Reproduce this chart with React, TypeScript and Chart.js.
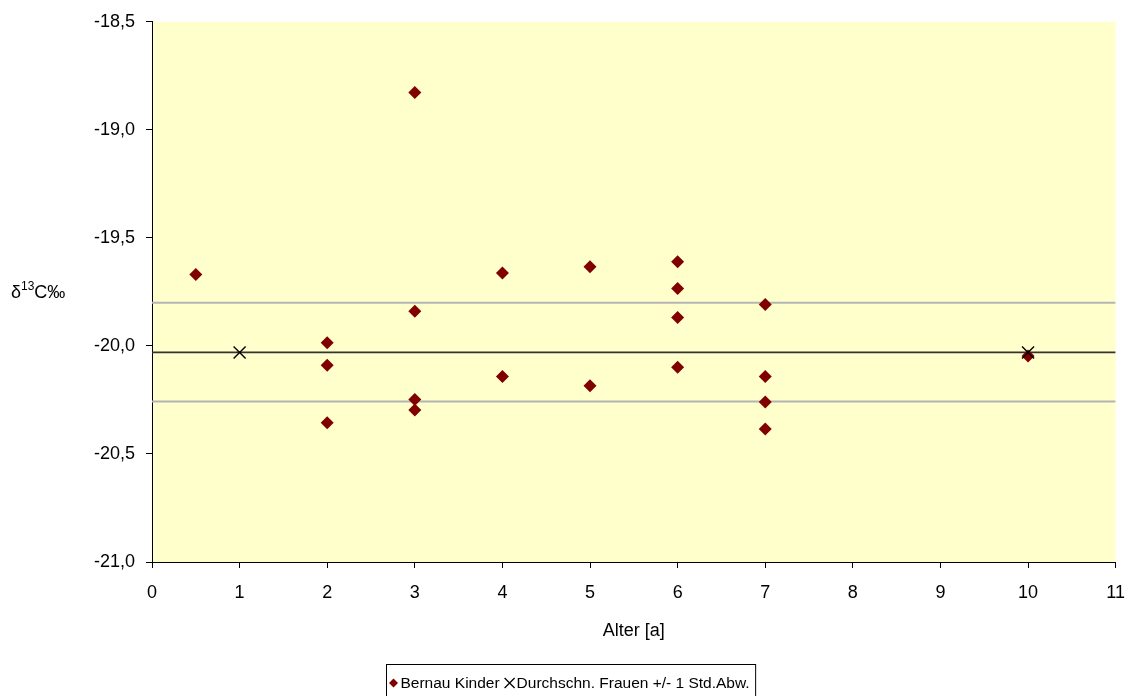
import React, { useEffect, useRef } from "react";
import { Chart, registerables } from "chart.js";

Chart.register(...registerables);

const kinderAges = [0.5, 2, 2, 2, 3, 3, 3, 3, 4, 4, 5, 5, 6, 6, 6, 6, 7, 7, 7, 7, 10];
const kinderValues = [
  -19.67, -19.985, -20.09, -20.355, -18.827, -19.84, -20.248, -20.296, -19.663, -20.142,
  -19.634, -20.184, -19.61, -19.734, -19.869, -20.099, -19.808, -20.142, -20.26, -20.384, -20.047,
];
const frauenAges = [1, 10];
const frauenMean = -20.03;
const frauenUpper = -19.8;
const frauenLower = -20.257;
const lineSpan = [0, 11];
const yTicks = [-21, -20.5, -20, -19.5, -19, -18.5];

const FONT = "'Liberation Sans', Arial, sans-serif";

export default function App() {
  const ref = useRef<HTMLCanvasElement | null>(null);

  useEffect(() => {
    document.body.style.margin = "0";
    const canvas = ref.current!;
    const bgPlugin = {
      id: "bg",
      beforeDraw(chart: any) {
        const { ctx, chartArea } = chart;
        ctx.save();
        ctx.fillStyle = "#FFFFCC";
        ctx.fillRect(chartArea.left, chartArea.top, chartArea.right - chartArea.left, chartArea.bottom - chartArea.top);
        ctx.restore();
      },
      afterDraw(chart: any) {
        const { ctx, chartArea } = chart;
        ctx.save();
        // y title
        const midY = (chartArea.top + chartArea.bottom) / 2;
        ctx.fillStyle = "#000";
        ctx.textBaseline = "middle";
        ctx.textAlign = "left";
        let x = 11;
        ctx.font = `18px ${FONT}`;
        ctx.fillText("δ", x, midY + 1);
        x += ctx.measureText("δ").width;
        ctx.font = `12px ${FONT}`;
        ctx.fillText("13", x, midY - 5);
        x += ctx.measureText("13").width;
        ctx.font = `18px ${FONT}`;
        ctx.fillText("C‰", x, midY + 1);

        // legend
        const items = chart.data.datasets.filter((d: any) => d.inLegend);
        ctx.font = `15.5px ${FONT}`;
        const markerW = 12;
        const widths = items.map((d: any) => ctx.measureText(d.label).width);
        let total = 3;
        items.forEach((_: any, i: number) => {
          total += markerW + 1 + widths[i] + 4;
        });
        const boxLeft = Math.round(chart.width / 2 - total / 2) + 1.5;
        const boxTop = 664.5;
        const cy = 683;
        ctx.strokeStyle = "#000";
        ctx.lineWidth = 1;
        ctx.strokeRect(boxLeft, boxTop, total, 60);
        let lx = boxLeft + 1;
        items.forEach((d: any, i: number) => {
          const mx = lx + markerW / 2;
          if (d.pointStyle === "rectRot") {
            ctx.fillStyle = d.backgroundColor;
            ctx.beginPath();
            ctx.moveTo(mx, cy - 4.5);
            ctx.lineTo(mx + 4.5, cy);
            ctx.lineTo(mx, cy + 4.5);
            ctx.lineTo(mx - 4.5, cy);
            ctx.closePath();
            ctx.fill();
          } else {
            ctx.strokeStyle = "#000";
            ctx.lineWidth = 1.3;
            ctx.beginPath();
            ctx.moveTo(mx - 5, cy - 5);
            ctx.lineTo(mx + 5, cy + 5);
            ctx.moveTo(mx + 5, cy - 5);
            ctx.lineTo(mx - 5, cy + 5);
            ctx.stroke();
          }
          ctx.fillStyle = "#000";
          ctx.textAlign = "left";
          ctx.textBaseline = "middle";
          ctx.fillText(d.label, lx + markerW + 1, cy + 1);
          lx += markerW + 1 + widths[i] + 4;
        });
        ctx.restore();
      },
    };

    const chart = new Chart(canvas, {
      type: "scatter",
      data: {
        datasets: [
          {
            label: "Bernau Kinder",
            inLegend: true,
            data: kinderAges.map((a, i) => ({ x: a, y: kinderValues[i] })),
            pointStyle: "rectRot",
            pointRadius: 6.5,
            backgroundColor: "#800000",
            borderColor: "#800000",
            borderWidth: 0,
            order: 2,
          } as any,
          {
            label: "Durchschn. Frauen +/- 1 Std.Abw.",
            inLegend: true,
            data: frauenAges.map((a) => ({ x: a, y: frauenMean })),
            pointStyle: "crossRot",
            pointRadius: 8.5,
            borderColor: "#000",
            backgroundColor: "#000",
            borderWidth: 1.4,
            order: 1,
          } as any,
          {
            label: "Mittelwert",
            type: "line",
            data: lineSpan.map((a) => ({ x: a, y: frauenMean })),
            showLine: true,
            pointRadius: 0,
            borderColor: "#333333",
            borderWidth: 1.6,
            order: 5,
          } as any,
          {
            label: "+1 Std.Abw.",
            type: "line",
            data: lineSpan.map((a) => ({ x: a, y: frauenUpper })),
            showLine: true,
            pointRadius: 0,
            borderColor: "#b4b4b4",
            borderWidth: 2,
            order: 5,
          } as any,
          {
            label: "-1 Std.Abw.",
            type: "line",
            data: lineSpan.map((a) => ({ x: a, y: frauenLower })),
            showLine: true,
            pointRadius: 0,
            borderColor: "#b4b4b4",
            borderWidth: 2,
            order: 5,
          } as any,
        ],
      },
      options: {
        animation: false,
        responsive: false,
        maintainAspectRatio: false,
        layout: { padding: { top: 19, right: 14, bottom: 54, left: 0 } },
        plugins: {
          legend: { display: false },
          tooltip: { enabled: false },
        },
        scales: {
          x: {
            type: "linear",
            min: 0,
            max: 11,
            ticks: {
              stepSize: 1,
              color: "#000",
              font: { family: FONT, size: 18 },
              padding: 14,
            },
            grid: {
              drawOnChartArea: false,
              drawTicks: true,
              tickLength: 6,
              color: "#000",
            },
            border: { color: "#000", width: 1 },
            title: {
              display: true,
              text: "Alter [a]",
              color: "#000",
              font: { family: FONT, size: 18 },
              padding: { top: 0, bottom: 0 },
            },
            afterFit(scale: any) {
              scale.height = 80;
            },
          },
          y: {
            type: "linear",
            min: -21,
            max: -18.5,
            afterBuildTicks(scale: any) {
              scale.ticks = yTicks.map((v) => ({ value: v }));
            },
            ticks: {
              color: "#000",
              font: { family: FONT, size: 18 },
              padding: 11,
              callback: (v: any) => Number(v).toFixed(1).replace(".", ","),
            },
            grid: {
              drawOnChartArea: false,
              drawTicks: true,
              tickLength: 6,
              color: "#000",
            },
            border: { color: "#000", width: 1 },
            afterFit(scale: any) {
              scale.width = 152;
            },
          },
        },
      } as any,
      plugins: [bgPlugin],
    });
    return () => chart.destroy();
  }, []);

  return <canvas ref={ref} width={1139} height={696} style={{ display: "block" }} />;
}
